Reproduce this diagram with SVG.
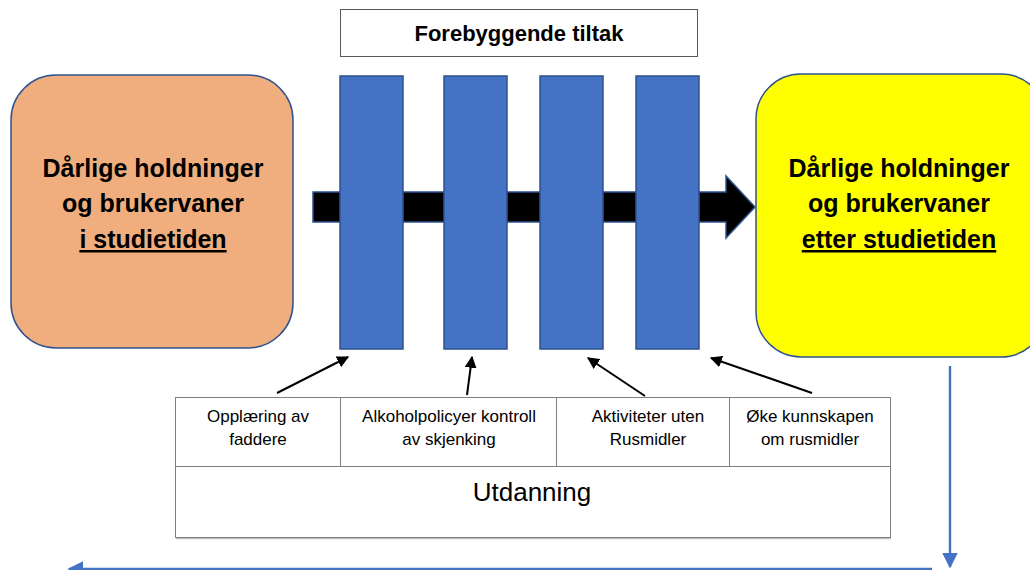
<svg xmlns="http://www.w3.org/2000/svg" width="1030" height="570" viewBox="0 0 1030 570">
<defs>
<style>
.big{font-family:"Liberation Sans",Arial,sans-serif;font-weight:bold;font-size:25px;fill:#000;text-anchor:middle}
.title{font-family:"Liberation Sans",Arial,sans-serif;font-weight:bold;font-size:22px;fill:#000;text-anchor:middle}
.cell{font-family:"Liberation Sans",Arial,sans-serif;font-size:17px;fill:#000;text-anchor:middle}
.edu{font-family:"Liberation Sans",Arial,sans-serif;font-size:26px;fill:#000;text-anchor:middle}
.bar{fill:#4472C4;stroke:#2F528F;stroke-width:1.5}
.tbl{fill:#fff;stroke:#7F7F7F;stroke-width:1}
.blk{stroke:#000;stroke-width:2;fill:none;marker-end:url(#ah)}
.blu{stroke:#4472C4;stroke-width:2.4;fill:none;marker-end:url(#bh)}
</style>
<marker id="ah" viewBox="0 0 10 10" refX="9" refY="5" markerWidth="6" markerHeight="6" orient="auto" markerUnits="strokeWidth">
<path d="M0,0 L10,5 L0,10 z" fill="#000"/>
</marker>
<marker id="bh" viewBox="0 0 10 10" refX="9" refY="5" markerWidth="6.5" markerHeight="6.5" orient="auto" markerUnits="strokeWidth">
<path d="M0,0 L10,5 L0,10 z" fill="#4472C4"/>
</marker>
</defs>
<rect width="1030" height="570" fill="#fff"/>

<g id="title">
<rect x="340.5" y="9.5" width="357" height="47" fill="#fff" stroke="#595959" stroke-width="1"/>
<text class="title" x="519" y="40.5">Forebyggende tiltak</text>
</g>

<g id="before">
<rect x="11" y="75" width="282" height="273" rx="45" fill="#F0AE7E" stroke="#2F528F" stroke-width="1.5"/>
<text class="big" x="153" y="177">Dårlige holdninger</text>
<text class="big" x="153" y="212">og brukervaner</text>
<text class="big" x="153" y="248" text-decoration="underline">i studietiden</text>
</g>

<g id="after">
<rect x="756" y="74" width="290" height="283" rx="45" fill="#FFFF00" stroke="#2F528F" stroke-width="1.5"/>
<text class="big" x="899" y="177">Dårlige holdninger</text>
<text class="big" x="899" y="212">og brukervaner</text>
<text class="big" x="899" y="248" text-decoration="underline">etter studietiden</text>
</g>

<g id="flow-arrow">
<polygon points="313,192 726,192 726,176 755,207 726,238 726,222 313,222" fill="#000" stroke="#2F528F" stroke-width="1.5"/>
</g>

<g id="bar1"><rect class="bar" x="340" y="76" width="63" height="273"/></g>
<g id="bar2"><rect class="bar" x="444" y="76" width="63" height="273"/></g>
<g id="bar3"><rect class="bar" x="540" y="76" width="63" height="273"/></g>
<g id="bar4"><rect class="bar" x="636" y="76" width="63" height="273"/></g>

<g id="table">
<line x1="176" y1="538.5" x2="891" y2="538.5" stroke="#BFBFBF" stroke-width="1.5"/>
<rect class="tbl" x="175.5" y="397.5" width="715" height="140"/>
<line x1="175.5" y1="466.5" x2="890.5" y2="466.5" stroke="#7F7F7F" stroke-width="1"/>
<line x1="340.5" y1="397.5" x2="340.5" y2="466.5" stroke="#7F7F7F" stroke-width="1"/>
<line x1="556.5" y1="397.5" x2="556.5" y2="466.5" stroke="#7F7F7F" stroke-width="1"/>
<line x1="729.5" y1="397.5" x2="729.5" y2="466.5" stroke="#7F7F7F" stroke-width="1"/>
</g>

<g id="cell1">
<text class="cell" x="258" y="422">Opplæring av</text>
<text class="cell" x="258" y="445">faddere</text>
</g>
<g id="cell2">
<text class="cell" x="449" y="422">Alkoholpolicyer kontroll</text>
<text class="cell" x="449" y="445">av skjenking</text>
</g>
<g id="cell3">
<text class="cell" x="648" y="422">Aktiviteter uten</text>
<text class="cell" x="648" y="445">Rusmidler</text>
</g>
<g id="cell4">
<text class="cell" x="810" y="422">Øke kunnskapen</text>
<text class="cell" x="810" y="445">om rusmidler</text>
</g>
<g id="education">
<text class="edu" x="532" y="501">Utdanning</text>
</g>

<g id="connectors">
<line class="blk" x1="277" y1="393" x2="348" y2="357"/>
<line class="blk" x1="467" y1="395" x2="472" y2="357"/>
<line class="blk" x1="645" y1="396" x2="588" y2="358"/>
<line class="blk" x1="812" y1="393" x2="711" y2="358"/>
<line class="blu" x1="950" y1="366" x2="950" y2="567"/>
<line class="blu" x1="932" y1="569" x2="69" y2="569"/>
</g>
</svg>
